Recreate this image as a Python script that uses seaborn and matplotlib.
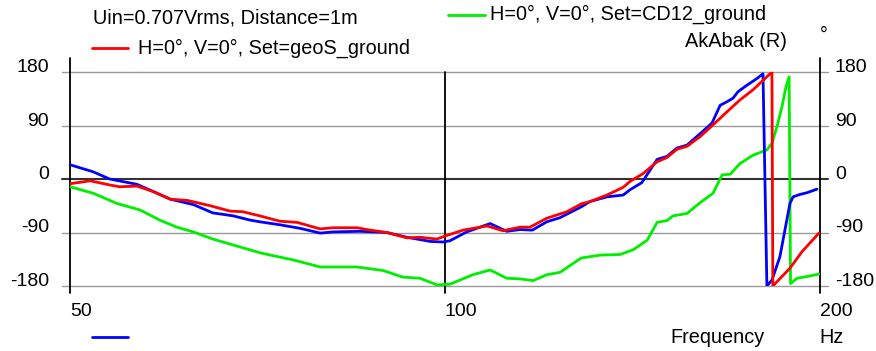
import matplotlib
matplotlib.use("Agg")
import matplotlib.pyplot as plt
import matplotlib.transforms as mtransforms
import seaborn as sns
import pandas as pd
from matplotlib.lines import Line2D

sns.set_theme(style="white")
plt.rcParams["font.family"] = ["Liberation Sans", "DejaVu Sans"]

# ---- data (Hz, degrees) ----
freq_blue = [50.0, 52.2, 53.8, 56.6, 58.3, 60.2, 62.8, 65.1, 67.6, 69.7, 71.0, 73.7, 76.5, 79.4,
             81.3, 85.5, 89.8, 93.2, 97.3, 99.6, 100.9, 104.1, 108.7, 112.1, 114.9, 117.5, 120.7,
             123.7, 128.6, 130.7, 134.9, 139.0, 140.8, 143.9, 146.1, 148.0, 150.7, 153.5, 156.4,
             160.2, 163.8, 166.3, 168.4, 170.3, 171.9, 174.8, 178.0, 180.0, 181.3, 183.0, 185.7,
             189.2, 190.3, 192.7, 195.3, 198.9]
phase_blue = [24, 12, 0, -9, -21, -34, -43, -57, -62, -69, -72, -77, -83, -91,
              -89, -88, -90, -98, -105, -106, -104, -89, -75, -88, -85, -86, -72,
              -65, -47, -38, -30, -27, -18, -6, 15, 33, 38, 52, 57,
              76, 94, 124, 130, 136, 147, 158, 169, 177, -180, -170, -131,
              -41, -30, -26, -23, -17]

freq_red = [50.0, 51.9, 53.8, 54.8, 56.6, 58.3, 60.2, 62.1, 64.8, 67.2, 68.8, 71.0, 73.7, 76.1,
            79.4, 81.3, 85.0, 87.1, 89.8, 93.2, 95.5, 98.5, 100.0, 103.4, 108.1, 111.3, 114.9,
            117.0, 120.7, 125.3, 128.6, 130.7, 134.9, 139.0, 140.8, 144.2, 148.0, 150.7, 153.5,
            156.4, 160.2, 164.1, 168.4, 172.5, 176.7, 183.0, 183.3, 189.2, 193.5, 199.6]
phase_red = [-8, -3, -10, -13, -12, -21, -34, -36, -45, -54, -55, -62, -71, -73,
             -84, -82, -82, -86, -90, -99, -98, -101, -96, -86, -79, -87, -81,
             -81, -66, -55, -42, -38, -27, -14, -4, 9, 29, 36, 50,
             55, 71, 91, 113, 133, 150, 180, -180, -150, -122, -91]

freq_green = [50.0, 52.2, 54.5, 56.9, 59.0, 60.9, 62.8, 65.1, 67.6, 71.0, 72.4, 75.5, 79.4, 85.0,
              89.2, 92.5, 95.5, 98.5, 100.9, 105.3, 108.7, 112.1, 114.9, 117.7, 120.7, 123.7,
              128.6, 133.2, 138.2, 141.6, 145.3, 148.0, 150.7, 152.4, 156.4, 160.2, 164.1, 166.9,
              169.4, 172.5, 176.7, 181.3, 183.0, 184.7, 186.4, 187.8, 188.9, 189.4, 191.7, 195.3,
              199.6]
phase_green = [-13, -24, -41, -52, -69, -81, -89, -101, -111, -124, -128, -136, -148, -148,
               -154, -165, -167, -178, -177, -161, -153, -167, -168, -171, -161, -157,
               -133, -128, -127, -119, -103, -73, -70, -62, -58, -40, -24, 7,
               8, 26, 40, 49, 60, 88, 121, 155, 172, -176, -167, -164,
               -160]

y_ticks = [180, 90, 0, -90, -180]
x_ticks = [50, 100, 200]
x_labels = ["50", "100", "200"]

W, H = 876, 351
fig = plt.figure(figsize=(W / 100, H / 100), dpi=100)
fig.patch.set_facecolor("white")
ax = fig.add_axes([70 / W, 1 - 286 / H, 750 / W, 214 / H])
ax.set_facecolor("white")

# grid lines (horizontal)
ext = 8 / 750
for v in y_ticks:
    if v == 0:
        ax.axhline(v, xmin=-ext, xmax=1 + ext, color="#333333", lw=1.5, clip_on=False, zorder=1)
    else:
        ax.axhline(v, xmin=-ext, xmax=1 + ext, color="#9a9a9a", lw=1.0, clip_on=False, zorder=1)

# vertical lines
ax.axvline(50, ymin=-0.033, ymax=1.065, color="black", lw=1.3, clip_on=False, zorder=1)
ax.axvline(200, ymin=-0.033, ymax=1.065, color="black", lw=1.3, clip_on=False, zorder=1)
ax.axvline(100, ymin=-0.033, ymax=1.0, color="black", lw=1.3, clip_on=False, zorder=1)

df_g = pd.DataFrame({"f": freq_green, "p": phase_green})
df_b = pd.DataFrame({"f": freq_blue, "p": phase_blue})
df_r = pd.DataFrame({"f": freq_red, "p": phase_red})
sns.lineplot(data=df_g, x="f", y="p", color="#00ee00", lw=2.0, ax=ax, sort=False, estimator=None, zorder=3)
sns.lineplot(data=df_b, x="f", y="p", color="#0000ff", lw=2.0, ax=ax, sort=False, estimator=None, zorder=4)
sns.lineplot(data=df_r, x="f", y="p", color="#ff0000", lw=2.0, ax=ax, sort=False, estimator=None, zorder=5)

ax.set_xscale("log")
ax.set_xlim(50, 200)
ax.set_ylim(-180, 180)
ax.set_xticks(x_ticks)
ax.set_xticklabels(x_labels)
ax.xaxis.set_minor_locator(matplotlib.ticker.NullLocator())
ax.set_yticks(y_ticks)
ax.set_yticklabels([str(v) for v in y_ticks])
ax.set_xlabel("")
ax.set_ylabel("")
for s in ax.spines.values():
    s.set_visible(False)
ax.grid(False)

ax.tick_params(axis="y", length=0, labelsize=14, labelleft=True, labelright=False, pad=15, colors="black")
ax.tick_params(axis="x", length=0, labelsize=14, pad=12, colors="black")
for t in ax.yaxis.get_major_ticks():
    t.label1.set_va("baseline")
for lbl in ax.get_xticklabels():
    lbl.set_ha("left")
    lbl.set_va("top")

# right-hand tick labels
trans = mtransforms.blended_transform_factory(ax.transAxes, ax.transData)
for v in y_ticks:
    ax.text(1 + 15 / 750, v, str(v), transform=trans, ha="left", va="baseline",
            fontsize=14, color="black", clip_on=False)

def ft(x, y, s, **kw):
    fig.text(x / W, 1 - y / H, s, fontsize=14.3, color="black", va="baseline", ha="left", **kw)

ft(93, 23, "Uin=0.707Vrms, Distance=1m")
ft(138, 54, "H=0°, V=0°, Set=geoS_ground")
ft(490, 20, "H=0°, V=0°, Set=CD12_ground")
ft(685, 47, "AkAbak (R)")
ft(820, 41, "°")
ft(670, 343, "Frequency")
ft(819, 343, "Hz")

def legline(x0, x1, y, c):
    fig.add_artist(Line2D([x0 / W, x1 / W], [1 - y / H, 1 - y / H], color=c, lw=2.0,
                          transform=fig.transFigure))

legline(92, 128, 48, "#ff0000")
legline(448, 485, 15, "#00ee00")
legline(92, 128, 337, "#0000ff")

fig.savefig("out.png", dpi=100, facecolor="white")
